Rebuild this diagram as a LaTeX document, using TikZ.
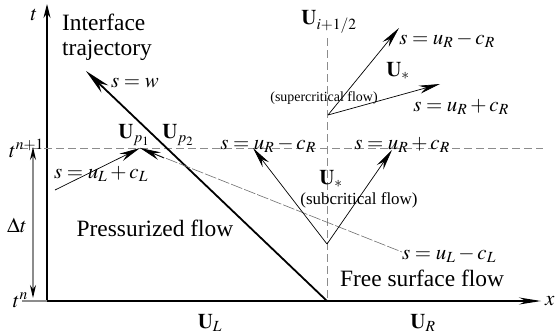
\documentclass[tikz,border=0pt]{standalone}
\usepackage{mathptmx}
\usepackage{fontspec}
\setmainfont{Liberation Serif}
\usetikzlibrary{arrows.meta,positioning}
\definecolor{guidegray}{RGB}{140,140,140}
\definecolor{raygray}{RGB}{110,110,110}
\tikzset{
  lbl/.style={inner sep=0pt,font=\fontsize{21}{23}\selectfont},
  flowtxt/.style={inner sep=0pt,font=\fontsize{23.5}{25}\selectfont},
  smalltxt/.style={inner sep=0pt,font=\fontsize{17}{19}\selectfont},
  tinytxt/.style={inner sep=0pt,font=\fontsize{14}{16}\selectfont},
  guide/.style={guidegray,line width=0.7bp,dash pattern=on 8bp off 4bp},
  ray/.style={line width=0.7bp,-{Stealth[length=21bp,width=8bp]}},
}

\begin{document}
\begin{tikzpicture}[x=1bp,y=1bp]
\useasboundingbox (0,0) rectangle (557,334);
% axes
\coordinate (O) at (47,33);
\coordinate (tn) at (22,33);
\draw[line width=1.1bp,-{Stealth[length=14bp,width=7bp]}] (O) -- (47,330) coordinate (ttop);
\draw[line width=1.1bp,-{Stealth[length=22bp,width=7bp]}] (O) -- (541,33) coordinate (xend);
\draw[guidegray,line width=1.1bp] (tn) -- (O);
\node[lbl] (tlab) at (34,319) {$t$};
\node[lbl,anchor=west] (xlab) at (545,33) {$x$};

% time levels
\coordinate (lvlL) at (20,186);
\coordinate (lvlR) at (543,186);
\draw[guide] (lvlL) -- (lvlR);
\node[lbl,anchor=base east] (tnp) at (44,177) {$t^{n+1}$};
\node[lbl,anchor=base east] (tnn) at (28,27) {$t^{n}$};
\coordinate (dtb) at (33,36);
\coordinate (dtt) at (33,187);
\draw[guidegray,line width=1.4bp,{Stealth[length=13bp,width=6bp,black]}-{Stealth[length=13bp,width=6bp,black]}] (dtb) -- (dtt);
\node[lbl] (dt) at (17,109) {$\Delta t$};

% cell interface
\coordinate (ifoot) at (327,33);
\coordinate (itop) at (327,296);
\draw[guide] (itop) -- (ifoot);
\node[lbl] (Uhalf) at (329,312) {$\mathbf{U}_{i+1/2}$};

% interface trajectory
\coordinate (wtip) at (86,263);
\draw[line width=1.8bp,-{Stealth[length=26bp,width=10bp]}] (ifoot) -- (wtip);
\node[flowtxt,anchor=west,align=left] (itraj) at (62,297) {Interface\\trajectory};
\node[lbl] (sw) at (135,251) {$s=w$};

% pressurized side characteristics
\coordinate (P) at (140,186);
\coordinate (plus) at (55,144);
\coordinate (minus) at (402,82);
\coordinate (minusA) at (164,176);
\draw[ray] (plus) -- (P);
\draw[raygray,line width=0.6bp,dash pattern=on 12bp off 2bp] (P) -- (minus);
\draw[ray] (minusA) -- (P);
\node[lbl] (Up1) at (134,199) {$\mathbf{U}_{p_1}$};
\node[lbl] (Up2) at (178,199) {$\mathbf{U}_{p_2}$};
\node[lbl] (sLp) at (101,160) {$s=u_L+c_L$};
\node[lbl] (sLm) at (449,79) {$s=u_L-c_L$};

% subcritical fan
\coordinate (V) at (327,90);
\coordinate (Vl) at (253,186);
\coordinate (Vr) at (392,184);
\draw[ray] (V) -- (Vl);
\draw[ray] (V) -- (Vr);
\node[lbl] (sRm) at (268,189) {$s=u_R-c_R$};
\node[lbl] (sRp) at (402,189) {$s=u_R+c_R$};
\node[lbl] (Usub) at (331,155) {$\mathbf{U}_{*}$};
\node[smalltxt] (sub) at (359,134) {(subcritical flow)};

% supercritical fan
\coordinate (S) at (328,219);
\coordinate (Sa) at (399,306);
\coordinate (Sb) at (440,250);
\draw[ray] (S) -- (Sa);
\draw[ray] (S) -- (Sb);
\node[lbl] (sSm) at (447,294) {$s=u_R-c_R$};
\node[lbl] (Usup) at (398,263) {$\mathbf{U}_{*}$};
\node[tinytxt] (sup) at (324,236) {(supercritical flow)};
\node[lbl] (sSp) at (461,227) {$s=u_R+c_R$};

% regions and states
\node[flowtxt] (press) at (155,106) {Pressurized flow};
\node[flowtxt] (free) at (422,56) {Free surface flow};
\node[lbl] (UL) at (210,11) {$\mathbf{U}_L$};
\node[lbl] (UR) at (423,11) {$\mathbf{U}_R$};
\end{tikzpicture}
\end{document}
